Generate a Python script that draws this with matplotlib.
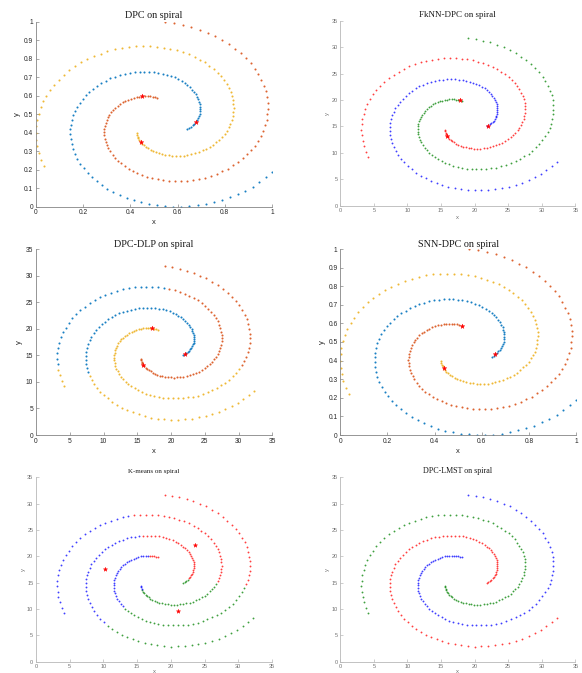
import matplotlib
matplotlib.use("Agg")
import matplotlib.pyplot as plt
import numpy as np

# three spiral arms (312-point style spiral set), outer end first
arm_a_x = [32.25, 31.51, 30.70, 29.86, 28.97, 28.04, 27.09, 26.11, 25.11, 24.09,
           23.07, 22.04, 21.02, 20.00, 19.00, 18.01, 17.04, 16.11, 15.20, 14.33,
           13.50, 12.70, 11.96, 11.27, 10.63, 10.04, 9.51, 9.03, 8.61, 8.26,
           7.97, 7.73, 7.55, 7.44, 7.39, 7.39, 7.45, 7.57, 7.74, 7.95,
           8.22, 8.54, 8.90, 9.29, 9.73, 10.20, 10.69, 11.22, 11.77, 12.33,
           12.91, 13.51, 14.10, 14.71, 15.31, 15.92, 16.51, 17.10, 17.67, 18.23,
           18.77, 19.28, 19.78, 20.25, 20.69, 21.10, 21.48, 21.83, 22.14, 22.42,
           22.66, 22.87, 23.05, 23.18, 23.29, 23.36, 23.41, 23.41, 23.38, 23.33,
           23.24, 23.14, 23.01, 22.86, 22.68, 22.49, 22.29, 22.07, 21.83]
arm_a_y = [8.27, 7.46, 6.71, 6.02, 5.40, 4.84, 4.35, 3.93, 3.58, 3.30,
           3.09, 2.95, 2.89, 2.88, 2.96, 3.09, 3.29, 3.55, 3.87, 4.24,
           4.68, 5.16, 5.69, 6.25, 6.87, 7.51, 8.18, 8.88, 9.61, 10.34,
           11.10, 11.86, 12.63, 13.40, 14.17, 14.92, 15.67, 16.40, 17.11, 17.80,
           18.47, 19.10, 19.71, 20.28, 20.81, 21.31, 21.77, 22.18, 22.56, 22.88,
           23.17, 23.41, 23.61, 23.75, 23.86, 23.92, 23.95, 23.92, 23.87, 23.77,
           23.64, 23.46, 23.26, 23.03, 22.77, 22.48, 22.18, 21.85, 21.51, 21.14,
           20.78, 20.39, 20.01, 19.62, 19.23, 18.85, 18.47, 18.09, 17.73, 17.37,
           17.03, 16.71, 16.40, 16.11, 15.84, 15.60, 15.37, 15.17, 14.99]

arm_b_x = [19.07, 20.18, 21.27, 22.32, 23.34, 24.31, 25.23, 26.11, 26.93, 27.69,
           28.40, 29.04, 29.61, 30.12, 30.56, 30.93, 31.23, 31.46, 31.62, 31.70,
           31.73, 31.69, 31.58, 31.40, 31.17, 30.87, 30.52, 30.11, 29.66, 29.17,
           28.62, 28.04, 27.42, 26.78, 26.10, 25.41, 24.70, 23.97, 23.23, 22.49,
           21.75, 21.01, 20.27, 19.55, 18.85, 18.16, 17.49, 16.85, 16.24, 15.65,
           15.10, 14.59, 14.10, 13.66, 13.26, 12.91, 12.59, 12.31, 12.08, 11.89,
           11.75, 11.64, 11.58, 11.56, 11.58, 11.63, 11.73, 11.85, 12.01, 12.20,
           12.42, 12.66, 12.92, 13.21, 13.51, 13.83, 14.16, 14.50, 14.85, 15.19,
           15.55, 15.90, 16.24, 16.58, 16.92, 17.24, 17.55, 17.84, 18.12]
arm_b_y = [31.73, 31.53, 31.24, 30.90, 30.48, 30.00, 29.46, 28.87, 28.22, 27.53,
           26.80, 26.03, 25.22, 24.39, 23.53, 22.65, 21.76, 20.86, 19.96, 19.06,
           18.16, 17.27, 16.40, 15.55, 14.72, 13.91, 13.14, 12.40, 11.70, 11.03,
           10.42, 9.84, 9.32, 8.83, 8.41, 8.03, 7.71, 7.43, 7.22, 7.06,
           6.95, 6.89, 6.88, 6.92, 7.01, 7.15, 7.32, 7.55, 7.80, 8.11,
           8.44, 8.81, 9.19, 9.62, 10.06, 10.52, 11.00, 11.49, 11.99, 12.49,
           13.00, 13.51, 14.02, 14.52, 15.01, 15.49, 15.95, 16.40, 16.83, 17.24,
           17.62, 17.98, 18.32, 18.63, 18.91, 19.16, 19.39, 19.58, 19.74, 19.87,
           19.98, 20.05, 20.10, 20.11, 20.11, 20.07, 20.02, 19.94, 19.84]

arm_c_x = [4.18, 3.81, 3.53, 3.32, 3.19, 3.15, 3.18, 3.28, 3.46, 3.71,
           4.03, 4.42, 4.87, 5.38, 5.95, 6.56, 7.23, 7.94, 8.68, 9.47,
           10.27, 11.11, 11.96, 12.83, 13.71, 14.59, 15.48, 16.35, 17.22, 18.08,
           18.92, 19.73, 20.52, 21.28, 22.01, 22.70, 23.36, 23.97, 24.53, 25.06,
           25.53, 25.95, 26.33, 26.65, 26.92, 27.14, 27.32, 27.44, 27.50, 27.52,
           27.49, 27.41, 27.29, 27.13, 26.93, 26.68, 26.40, 26.09, 25.75, 25.38,
           24.99, 24.58, 24.14, 23.69, 23.24, 22.77, 22.30, 21.83, 21.35, 20.88,
           20.42, 19.97, 19.53, 19.11, 18.70, 18.31, 17.94, 17.59, 17.27, 16.97,
           16.71, 16.46, 16.24, 16.06, 15.90, 15.77, 15.67, 15.59, 15.55]
arm_c_y = [9.20, 10.21, 11.25, 12.28, 13.32, 14.36, 15.39, 16.40, 17.40, 18.37,
           19.31, 20.22, 21.09, 21.93, 22.71, 23.46, 24.15, 24.79, 25.37, 25.90,
           26.36, 26.77, 27.11, 27.40, 27.62, 27.78, 27.88, 27.92, 27.90, 27.82,
           27.68, 27.50, 27.25, 26.97, 26.62, 26.25, 25.82, 25.37, 24.86, 24.34,
           23.79, 23.21, 22.62, 22.00, 21.38, 20.75, 20.11, 19.47, 18.84, 18.21,
           17.60, 16.99, 16.40, 15.83, 15.28, 14.76, 14.26, 13.79, 13.35, 12.94,
           12.56, 12.23, 11.92, 11.66, 11.42, 11.23, 11.07, 10.95, 10.86, 10.82,
           10.80, 10.82, 10.87, 10.95, 11.05, 11.19, 11.35, 11.54, 11.73, 11.96,
           12.19, 12.45, 12.70, 12.98, 13.25, 13.53, 13.81, 14.09, 14.37]

# colours
M_BLUE, M_ORANGE, M_YELLOW = "#0072BD", "#D95319", "#EDB120"
C_BLUE, C_GREEN, C_RED = "#0000ff", "#008000", "#ff0000"

# cluster labels as (arm, first, stop, colour) runs along each arm
dpc_segments = [("a", 0, 89, M_BLUE), ("b", 0, 89, M_ORANGE), ("c", 0, 89, M_YELLOW)]
fknn_segments = [("a", 0, 89, C_BLUE), ("b", 0, 89, C_GREEN), ("c", 0, 89, C_RED)]
dlp_segments = [("a", 0, 31, M_YELLOW), ("a", 31, 89, M_BLUE),
                ("b", 0, 27, M_ORANGE), ("b", 27, 89, M_YELLOW),
                ("c", 0, 4, M_YELLOW), ("c", 4, 31, M_BLUE), ("c", 31, 89, M_ORANGE)]
snn_segments = dpc_segments
kmeans_segments = [("a", 0, 25, C_GREEN), ("a", 25, 55, C_BLUE), ("a", 55, 85, C_RED), ("a", 85, 89, C_GREEN),
                   ("b", 0, 25, C_RED), ("b", 25, 55, C_GREEN), ("b", 55, 84, C_BLUE), ("b", 84, 89, C_RED),
                   ("c", 0, 25, C_BLUE), ("c", 25, 55, C_RED), ("c", 55, 86, C_GREEN), ("c", 86, 89, C_BLUE)]
lmst_segments = [("a", 0, 89, C_RED), ("b", 0, 89, C_BLUE), ("c", 0, 89, C_GREEN)]

# density-peak centres, as (arm, point index)
dpc_centers = [("a", 83), ("b", 82), ("c", 83)]
fknn_centers = [("a", 87), ("b", 87), ("c", 84)]
dlp_centers = [("a", 87), ("b", 85), ("c", 84)]
snn_centers = [("a", 86), ("b", 88), ("c", 84)]
# k-means centroids (not data points)
kmeans_cx = [10.27, 23.64, 21.08]
kmeans_cy = [17.66, 22.20, 9.56]

arms = {"a": (np.array(arm_a_x), np.array(arm_a_y)),
        "b": (np.array(arm_b_x), np.array(arm_b_y)),
        "c": (np.array(arm_c_x), np.array(arm_c_y))}

all_x = np.concatenate([v[0] for v in arms.values()])
all_y = np.concatenate([v[1] for v in arms.values()])
x_lo, x_hi = all_x.min(), all_x.max()
y_lo, y_hi = all_y.min(), all_y.max()


def arm_xy(key, normalise):
    x, y = arms[key]
    if normalise:
        return (x - x_lo) / (x_hi - x_lo), (y - y_lo) / (y_hi - y_lo)
    return x, y


SERIF = "Liberation Serif"
SANS = "Liberation Sans"

W, H = 582, 673
fig = plt.figure(figsize=(W / 100, H / 100), dpi=100)


def add_axes(left, top, right, bottom):
    return fig.add_axes([left / W, 1 - bottom / H, (right - left) / W, (bottom - top) / H])


def style_axes(ax, modern, normalise, title, title_size, title_pad, xpad):
    for side in ("top", "right"):
        ax.spines[side].set_visible(False)
    spine_col = "#858585" if modern else "#b8b8b8"
    text_col = "#262626" if modern else "#707070"
    for side in ("left", "bottom"):
        ax.spines[side].set_color(spine_col)
        ax.spines[side].set_linewidth(0.6)
    ax.tick_params(direction="in", length=2, width=0.5, colors=spine_col,
                   labelcolor=text_col, labelsize=4.8 if modern else 4.0, pad=2)
    if normalise:
        ax.set_xlim(0, 1)
        ax.set_ylim(0, 1)
        ax.set_xticks(np.arange(0, 1.01, 0.2))
        ax.set_yticks(np.arange(0, 1.01, 0.1))
        ax.set_xticklabels(["0", "0.2", "0.4", "0.6", "0.8", "1"])
        ax.set_yticklabels(["0"] + [f"{v:.1f}" for v in np.arange(0.1, 0.95, 0.1)] + ["1"])
    else:
        ax.set_xlim(0, 35)
        ax.set_ylim(0, 35)
        ax.set_xticks(range(0, 36, 5))
        ax.set_yticks(range(0, 36, 5))
    for lab in ax.get_xticklabels() + ax.get_yticklabels():
        lab.set_family(SANS)
    lab_size = 5.5 if modern else 4.2
    ax.set_xlabel("x", fontsize=lab_size, family=SANS, color=text_col, labelpad=xpad)
    ax.set_ylabel("y", fontsize=lab_size, family=SANS, color=text_col, labelpad=2 if modern else 1)
    ax.set_title(title, fontsize=title_size, family=SERIF, color="#1a1a1a", pad=title_pad)


def draw_panel(ax, segments, centers, modern, normalise):
    size = 2.2 if modern else 1.8
    for key, first, stop, colour in segments:
        x, y = arm_xy(key, normalise)
        ax.scatter(x[first:stop], y[first:stop], s=size, c=colour, marker="o",
                   linewidths=0, alpha=0.9 if modern else 0.75, zorder=2)
    for key, idx in centers:
        x, y = arm_xy(key, normalise)
        ax.scatter([x[idx]], [y[idx]], s=12, c="#ff0000", marker="*", linewidths=0.3,
                   edgecolors="#ff0000", zorder=3)


panels = [
    # title, box (l, t, r, b), segments, centres, modern look, normalised, title size, pad, xlabel pad
    ("DPC on spiral", (36, 21.7, 272, 206.7), dpc_segments, dpc_centers, True, True, 7.3, 2.4, 2),
    ("FkNN-DPC on spiral", (340.3, 20.7, 575.3, 205.7), fknn_segments, fknn_centers, False, False, 6.5, 2.7, 1),
    ("DPC-DLP on spiral", (36, 249, 272.3, 435), dlp_segments, dlp_centers, True, False, 7.3, 1.4, 2),
    ("SNN-DPC on spiral", (340.3, 249, 576, 435), snn_segments, snn_centers, True, True, 7.3, 1.4, 2),
    ("K-means on spiral", (36, 477.3, 272, 661.7), kmeans_segments, [], False, False, 5.0, 3.0, 0),
    ("DPC-LMST on spiral", (340.3, 477.3, 575.3, 661.7), lmst_segments, [], False, False, 5.8, 3.0, 0),
]

for title, box, segs, cents, modern, norm, tsize, tpad, xpad in panels:
    ax = add_axes(*box)
    draw_panel(ax, segs, cents, modern, norm)
    style_axes(ax, modern, norm, title, tsize, tpad, xpad)
    if title.startswith("K-means"):
        ax.scatter(kmeans_cx, kmeans_cy, s=10, c="#ff0000", marker="*",
                   linewidths=0.3, edgecolors="#ff0000", zorder=3)

fig.savefig("out.png", dpi=100)
